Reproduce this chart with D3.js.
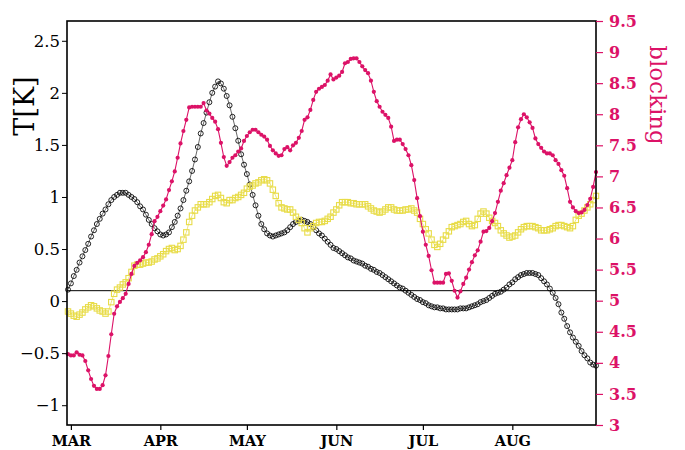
<!DOCTYPE html>
<html><head><meta charset="utf-8">
<script src="https://cdn.jsdelivr.net/npm/d3@7"></script>
<style>html,body{margin:0;padding:0;background:#fff;}svg{display:block;}</style>
</head><body>
<svg id="c" width="685" height="450"></svg>
<script>
// ---- data (one value per day, index 0 = last day of Feb, 1 = Mar 1) ----
const monthLabels = ["MAR","APR","MAY","JUN","JUL","AUG"];
const monthStartDay = [1,32,62,93,123,154];
const leftTicks = [-1,-0.5,0,0.5,1,1.5,2,2.5];
const rightTicks = [3,3.5,4,4.5,5,5.5,6,6.5,7,7.5,8,8.5,9,9.5];
const refLineT = 0.1;

const tempBlack = [0.11,0.17,0.24,0.30,0.37,0.43,0.49,0.55,0.62,0.68,
0.74,0.79,0.84,0.88,0.93,0.97,1.00,1.02,1.04,1.04,
1.04,1.02,1.00,0.98,0.95,0.91,0.88,0.83,0.78,0.74,
0.70,0.67,0.64,0.63,0.64,0.66,0.71,0.76,0.82,0.89,
0.97,1.06,1.15,1.25,1.36,1.48,1.61,1.71,1.81,1.91,
2.00,2.06,2.11,2.09,2.04,1.97,1.88,1.77,1.66,1.54,
1.41,1.31,1.22,1.12,1.02,0.92,0.82,0.74,0.69,0.65,
0.63,0.62,0.63,0.64,0.65,0.66,0.68,0.71,0.74,0.76,
0.77,0.78,0.77,0.76,0.74,0.71,0.68,0.65,0.63,0.60,
0.57,0.54,0.51,0.50,0.48,0.46,0.44,0.42,0.41,0.39,
0.38,0.37,0.36,0.34,0.33,0.31,0.30,0.28,0.27,0.25,
0.23,0.21,0.19,0.17,0.15,0.13,0.12,0.10,0.08,0.06,
0.04,0.02,0.01,-0.01,-0.02,-0.04,-0.05,-0.06,-0.06,-0.07,
-0.07,-0.08,-0.08,-0.08,-0.08,-0.08,-0.07,-0.07,-0.07,-0.06,
-0.05,-0.04,-0.03,-0.01,0.00,0.01,0.03,0.05,0.07,0.08,
0.09,0.11,0.13,0.16,0.18,0.21,0.23,0.25,0.26,0.27,
0.27,0.27,0.26,0.25,0.22,0.19,0.16,0.12,0.08,0.03,
-0.03,-0.11,-0.17,-0.24,-0.30,-0.35,-0.39,-0.43,-0.48,-0.52,
-0.55,-0.59,-0.61,-0.62];

const tempYellow = [-0.10,-0.12,-0.14,-0.15,-0.13,-0.11,-0.08,-0.06,-0.04,-0.05,
-0.07,-0.09,-0.10,-0.12,-0.10,-0.01,0.07,0.11,0.13,0.16,
0.18,0.22,0.28,0.34,0.35,0.35,0.36,0.37,0.37,0.38,
0.40,0.41,0.43,0.45,0.48,0.50,0.51,0.49,0.50,0.53,
0.59,0.66,0.76,0.82,0.87,0.90,0.93,0.93,0.93,0.95,
0.98,1.01,1.02,0.99,0.95,0.94,0.97,0.97,0.99,1.00,
1.02,1.04,1.08,1.10,1.11,1.13,1.14,1.16,1.17,1.16,
1.13,1.07,1.01,0.94,0.90,0.89,0.88,0.88,0.85,0.81,
0.78,0.75,0.70,0.66,0.70,0.72,0.75,0.76,0.76,0.77,
0.79,0.81,0.85,0.88,0.92,0.95,0.95,0.95,0.94,0.94,
0.93,0.93,0.93,0.93,0.91,0.89,0.87,0.86,0.85,0.86,
0.88,0.90,0.90,0.88,0.87,0.87,0.87,0.88,0.88,0.89,
0.87,0.85,0.79,0.74,0.69,0.65,0.59,0.54,0.52,0.55,
0.59,0.63,0.67,0.71,0.72,0.73,0.74,0.76,0.77,0.74,
0.72,0.73,0.79,0.84,0.86,0.84,0.80,0.77,0.75,0.72,
0.68,0.65,0.63,0.61,0.62,0.63,0.66,0.69,0.71,0.72,
0.72,0.72,0.71,0.70,0.68,0.68,0.68,0.69,0.70,0.72,
0.73,0.73,0.72,0.71,0.70,0.72,0.78,0.82,0.84,0.87,
0.90,0.93,0.97,1.01];

const blocking = [4.14,4.12,4.12,4.17,4.13,4.12,4.03,3.88,3.74,3.63,
3.58,3.58,3.64,3.80,4.11,4.46,4.79,4.91,4.98,5.04,
5.11,5.27,5.43,5.56,5.61,5.65,5.70,5.78,5.90,6.07,
6.28,6.35,6.44,6.53,6.63,6.78,6.92,7.08,7.30,7.53,
7.73,7.91,8.11,8.12,8.12,8.12,8.12,8.18,8.06,8.01,
7.94,7.88,7.76,7.54,7.31,7.17,7.23,7.30,7.34,7.40,
7.45,7.57,7.65,7.71,7.75,7.75,7.71,7.67,7.64,7.59,
7.49,7.42,7.37,7.33,7.34,7.44,7.47,7.42,7.50,7.54,
7.62,7.73,7.91,7.95,8.07,8.23,8.36,8.41,8.44,8.47,
8.54,8.64,8.56,8.59,8.62,8.68,8.82,8.84,8.89,8.90,
8.90,8.84,8.77,8.71,8.66,8.54,8.36,8.21,8.12,8.04,
7.99,7.94,7.80,7.57,7.59,7.59,7.52,7.44,7.34,7.18,
6.94,6.65,6.36,6.11,5.90,5.72,5.49,5.29,5.29,5.29,
5.29,5.43,5.44,5.32,5.16,5.05,5.15,5.27,5.37,5.50,
5.62,5.73,5.81,5.95,6.11,6.12,6.17,6.28,6.41,6.59,
6.77,6.89,7.02,7.14,7.26,7.55,7.79,7.92,8.00,7.95,
7.87,7.78,7.61,7.52,7.46,7.40,7.37,7.37,7.34,7.26,
7.20,7.10,7.01,6.81,6.59,6.50,6.44,6.41,6.42,6.46,
6.54,6.64,6.83,7.07];

// ---- layout / style ----
const PL = 67, PR = 596, PT = 21, PB = 425;
const PINK = "#dc1267", YEL = "#e8dc48";
const SERIF = "'DejaVu Serif', serif";

const svg = d3.select("#c");
const x = d3.scaleLinear().domain([0, tempBlack.length - 1]).range([68, 596]);
const yL = d3.scaleLinear().domain([-1.19, 2.69]).range([PB, PT]);
const yR = d3.scaleLinear().domain([3, 9.5]).range([PB, PT]);
const fmt = v => (v < 0 ? "\u2212" : "") + d3.format("")(Math.abs(v));

// reference line
svg.append("line").attr("x1", PL).attr("x2", PR)
  .attr("y1", yL(refLineT)).attr("y2", yL(refLineT))
  .attr("stroke", "#000").attr("stroke-width", 1);

// black series: hollow circles
const lineL = arr => d3.line().x((d, i) => x(i)).y(d => yL(d))(arr);
svg.append("path").attr("d", lineL(tempBlack)).attr("fill", "none")
  .attr("stroke", "#000").attr("stroke-width", 0.6);
svg.append("g").selectAll("circle").data(tempBlack).join("circle")
  .attr("cx", (d, i) => x(i)).attr("cy", d => yL(d)).attr("r", 2.5)
  .attr("fill", "none").attr("stroke", "#000").attr("stroke-width", 0.85);

// yellow series: hollow squares
svg.append("path").attr("d", lineL(tempYellow)).attr("fill", "none")
  .attr("stroke", YEL).attr("stroke-width", 0.7);
svg.append("g").selectAll("rect").data(tempYellow).join("rect")
  .attr("x", (d, i) => x(i) - 2.7).attr("y", d => yL(d) - 2.7)
  .attr("width", 5.4).attr("height", 5.4)
  .attr("fill", "none").attr("stroke", YEL).attr("stroke-width", 1.1);

// pink series: line + filled dots (right axis)
svg.append("path").attr("d", d3.line().x((d, i) => x(i)).y(d => yR(d))(blocking))
  .attr("fill", "none").attr("stroke", PINK).attr("stroke-width", 1.1);
svg.append("g").selectAll("circle").data(blocking).join("circle")
  .attr("cx", (d, i) => x(i)).attr("cy", d => yR(d)).attr("r", 2.1)
  .attr("fill", PINK);

// frame
svg.append("rect").attr("x", PL).attr("y", PT).attr("width", PR - PL).attr("height", PB - PT)
  .attr("fill", "none").attr("stroke", "#000").attr("stroke-width", 1.6);

// left axis
const gL = svg.append("g").attr("transform", `translate(${PL},0)`)
  .call(d3.axisLeft(yL).tickValues(leftTicks).tickSize(5).tickPadding(2).tickFormat(fmt));
gL.select(".domain").remove();
gL.selectAll("line").attr("stroke", "#000").attr("stroke-width", 1);
gL.selectAll("text").attr("font-family", SERIF).attr("font-size", 16.5).attr("fill", "#000");

// right axis
const gR = svg.append("g").attr("transform", `translate(${PR},0)`)
  .call(d3.axisRight(yR).tickValues(rightTicks).tickSize(7).tickPadding(6).tickFormat(fmt));
gR.select(".domain").remove();
gR.selectAll("line").attr("stroke", PINK).attr("stroke-width", 1.2);
gR.selectAll("text").attr("font-family", SERIF).attr("font-weight", "bold")
  .attr("font-size", 16).attr("fill", PINK);

// bottom axis
const gB = svg.append("g").attr("transform", `translate(0,${PB})`)
  .call(d3.axisBottom(x).tickValues(monthStartDay).tickSize(5).tickPadding(6)
    .tickFormat((d, i) => monthLabels[i]));
gB.select(".domain").remove();
gB.selectAll("line").attr("stroke", "#000").attr("stroke-width", 1.2);
gB.selectAll("text").attr("font-family", SERIF).attr("font-weight", "bold")
  .attr("font-size", 14.5).attr("fill", "#000");

// axis titles
svg.append("text").attr("transform", "translate(34,106) rotate(-90)")
  .attr("text-anchor", "middle").attr("font-family", SERIF).attr("font-size", 27)
  .attr("fill", "#000").text("T[K]");
svg.append("text").attr("transform", "translate(650,95) rotate(90)")
  .attr("text-anchor", "middle").attr("font-family", SERIF).attr("font-size", 23)
  .attr("fill", PINK).text("blocking");
</script>
</body></html>
